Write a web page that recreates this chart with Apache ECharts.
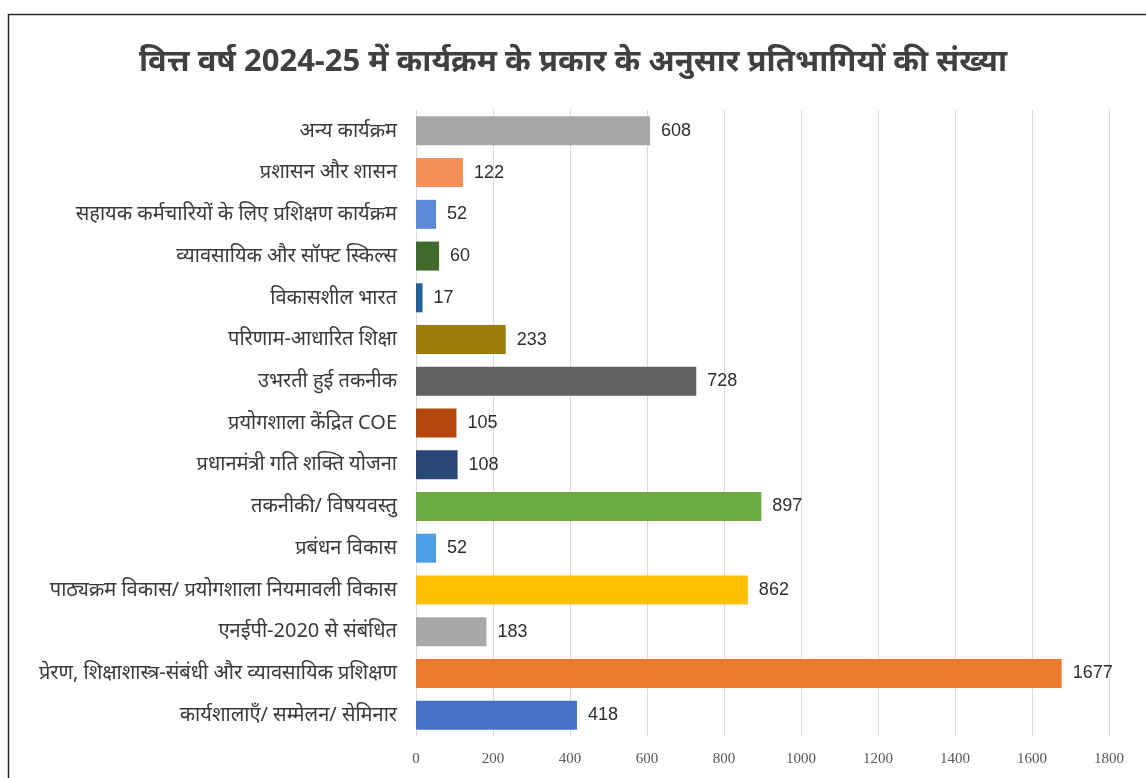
<!DOCTYPE html>
<html>
<head>
<meta charset="utf-8">
<title>कार्यक्रम के प्रकार के अनुसार प्रतिभागी</title>
<script src="https://cdn.jsdelivr.net/npm/echarts@6/dist/echarts.min.js"></script>
<style>
  html, body { margin: 0; padding: 0; background: #ffffff; }
  #chart { width: 1146px; height: 778px; }
</style>
</head>
<body>
<div id="chart"></div>
<script>
// Programme categories, listed top to bottom as shown
const categories = [
  'अन्य कार्यक्रम',
  'प्रशासन और शासन',
  'सहायक कर्मचारियों के लिए प्रशिक्षण कार्यक्रम',
  'व्यावसायिक और सॉफ्ट स्किल्स',
  'विकासशील भारत',
  'परिणाम-आधारित शिक्षा',
  'उभरती हुई तकनीक',
  'प्रयोगशाला केंद्रित COE',
  'प्रधानमंत्री गति शक्ति योजना',
  'तकनीकी/ विषयवस्तु',
  'प्रबंधन विकास',
  'पाठ्यक्रम विकास/ प्रयोगशाला नियमावली विकास',
  'एनईपी-2020 से संबंधित',
  'प्रेरण, शिक्षाशास्त्र-संबंधी और व्यावसायिक प्रशिक्षण',
  'कार्यशालाएँ/ सम्मेलन/ सेमिनार'
];

// Number of participants per category
const participants = [608, 122, 52, 60, 17, 233, 728, 105, 108, 897, 52, 862, 183, 1677, 418];

// Bar colour per category
const barColors = [
  '#a7a7a7', '#f4905a', '#5b8bd8', '#3f6a2b', '#23609a',
  '#9c7b0a', '#626262', '#b5470e', '#284678', '#6cab42',
  '#4d9fe6', '#ffc000', '#a9a9a9', '#ee7a30', '#4472c4'
];

const titleText = 'वित्त वर्ष 2024-25 में कार्यक्रम के प्रकार के अनुसार प्रतिभागियों की संख्या';

const chart = echarts.init(document.getElementById('chart'), null, { renderer: 'canvas' });

chart.setOption({
  backgroundColor: '#ffffff',
  animation: false,
  title: {
    text: titleText,
    left: 'center',
    top: 42,
    textStyle: {
      fontSize: 31,
      fontWeight: 'bold',
      color: '#404040',
      fontFamily: '"Noto Sans", "Noto Sans Devanagari", sans-serif'
    }
  },
  graphic: [{
    type: 'rect',
    silent: true,
    z: 100,
    shape: { x: 8.5, y: 14.5, width: 1200, height: 900 },
    style: { fill: 'none', stroke: '#2a2a2a', lineWidth: 1.5 }
  }],
  grid: { left: 416, right: 37, top: 110, bottom: 42, containLabel: false },
  xAxis: {
    type: 'value',
    min: 0,
    max: 1800,
    interval: 200,
    axisLine: { show: false },
    axisTick: { show: false },
    splitLine: { show: true, lineStyle: { color: '#dadada', width: 1 } },
    axisLabel: {
      margin: 16,
      fontSize: 15,
      color: '#595959',
      fontFamily: '"Liberation Serif", serif',
      formatter: (v) => String(v)
    }
  },
  yAxis: {
    type: 'category',
    data: categories,
    inverse: true,
    axisLine: { show: false },
    axisTick: { show: false },
    splitLine: { show: false },
    axisLabel: {
      margin: 19,
      fontSize: 20,
      color: '#3a3a3a',
      fontFamily: '"Noto Sans", "Noto Sans Devanagari", sans-serif'
    }
  },
  series: [{
    type: 'bar',
    data: participants.map((v, i) => ({ value: v, itemStyle: { color: barColors[i] } })),
    barWidth: 29,
    label: {
      show: true,
      position: 'right',
      distance: 11,
      fontSize: 18,
      color: '#2e2e2e',
      fontFamily: '"Liberation Sans", Arial, sans-serif'
    }
  }]
});
</script>
</body>
</html>
